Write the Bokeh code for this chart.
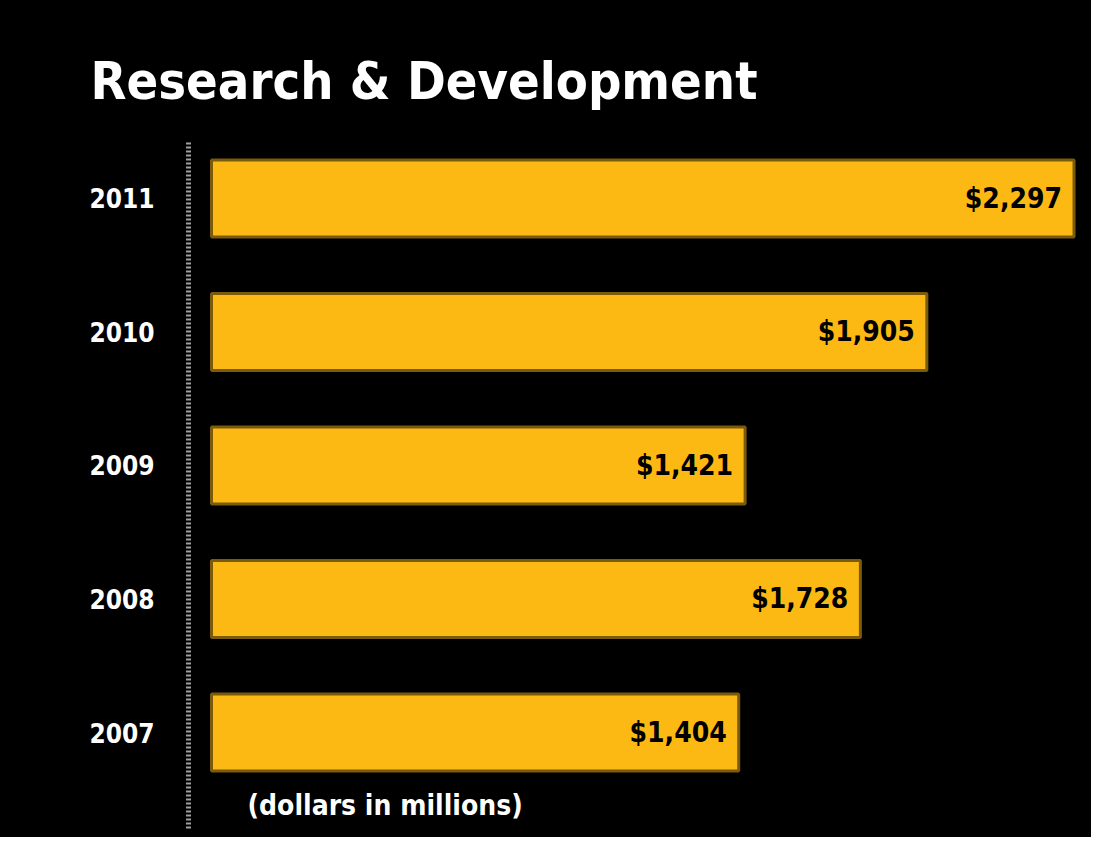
from bokeh.plotting import figure
from bokeh.models import ColumnDataSource, Range1d, FixedTicker, Label
from bokeh.core.properties import value
from bokeh.embed import file_html
from bokeh.resources import INLINE

years = ["2007", "2008", "2009", "2010", "2011"]
values = [1404, 1728, 1421, 1905, 2297]
title_text = "Research & Development"
note_text = "(dollars in millions)"

FONT = "'DejaVu Sans Condensed', 'Liberation Sans Narrow', 'Liberation Sans', sans-serif"
positions = list(range(len(years)))
labels = ["${:,}".format(v) for v in values]

src = ColumnDataSource(dict(y=positions, v=values, lab=labels, zero=[0] * len(values)))

p = figure(width=1091, height=837, output_backend="svg", toolbar_location=None,
           x_range=Range1d(-61.3, 2343.5), y_range=Range1d(-0.719, 4.434),
           min_border_left=188, min_border_right=0, min_border_top=140,
           min_border_bottom=9, title=title_text)
p.styles = {"background-color": "black"}
p.title.text_font = FONT
p.title.text_font_size = "52px"
p.title.text_font_style = "bold"
p.title.text_color = "white"
p.title.align = "left"
p.title.offset = -98
p.title.standoff = 60
p.background_fill_color = "black"
p.border_fill_color = "black"
p.outline_line_color = None
p.outline_line_alpha = 0
p.grid.visible = False
p.xaxis.visible = False

p.hbar(y="y", left="zero", right="v", height=0.577, source=src,
       fill_color="#FDB913", line_color="#7a5b0b", line_width=3)

p.text(x="v", y="y", text="lab", source=src, x_offset=-12,
       text_align="right", text_baseline="middle",
       text_font=value(FONT), text_font_style="bold",
       text_font_size="28px", text_color="black")

ax = p.yaxis[0]
ax.ticker = FixedTicker(ticks=positions)
ax.major_label_overrides = {i: y for i, y in zip(positions, years)}
ax.major_label_text_font = FONT
ax.major_label_text_font_style = "bold"
ax.major_label_text_font_size = "26px"
ax.major_label_text_color = "white"
ax.major_label_standoff = 28
ax.major_tick_line_color = None
ax.minor_tick_line_color = None
ax.axis_line_color = "#a0a0a0"
ax.axis_line_width = 5
ax.axis_line_dash = "2 2"

p.add_layout(Label(x=96, y=-0.547, text=note_text, text_color="white",
                   text_font=FONT, text_font_style="bold",
                   text_font_size="28px", text_baseline="middle",
                   text_align="left"))

open("out.html", "w").write(file_html(p, INLINE))
